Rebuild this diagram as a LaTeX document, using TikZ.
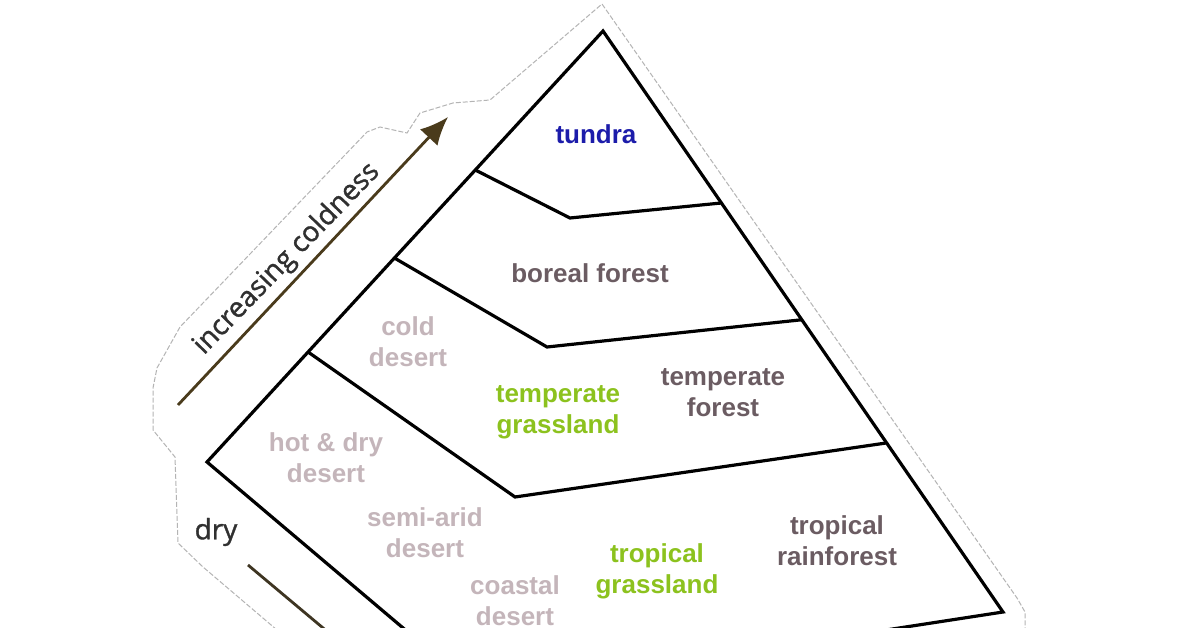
\documentclass[tikz,border=0pt]{standalone}
\usepackage{fontspec}
\setmainfont{Liberation Sans}
\newfontfamily\humfont[FakeBold=1.2]{Open Sans}
\usetikzlibrary{arrows.meta,calc}
\definecolor{tundrablue}{HTML}{1C1CAA}
\definecolor{darklbl}{HTML}{6B5C62}
\definecolor{lightlbl}{HTML}{C4B5BA}
\definecolor{grasslbl}{HTML}{8CC21E}
\definecolor{arrowbrown}{HTML}{3E3522}
\definecolor{headbrown}{HTML}{4A3B1C}
\definecolor{cutgray}{HTML}{B4B4B4}
\definecolor{axisgray}{HTML}{303030}
\begin{document}
\begin{tikzpicture}[x=1pt,y=-1pt,
  lbl/.style={font=\bfseries\fontsize{26}{31}\selectfont, align=center, inner sep=0pt},
  darkl/.style={lbl, text=darklbl},
  lightl/.style={lbl, text=lightlbl},
  grassl/.style={lbl, text=grasslbl},
  edge/.style={line width=3.2pt, line join=miter, line cap=round},
  axislbl/.style={font=\humfont\fontsize{28}{32}\selectfont, text=axisgray, inner sep=0pt},
  axisline/.style={line width=2.8pt, draw=arrowbrown},
  cutline/.style={draw=cutgray, line width=1pt, dash pattern=on 5pt off 2pt}]
\useasboundingbox[fill=white] (0,0) rectangle (1196,628);
\clip (0,0) rectangle (1196,628);

% cut-out outline
\draw[cutline] (277,630) -- (203,567) -- (178,543) -- (175,457) -- (153,430)
  -- (153,388) -- (157,368) -- (180,327) -- (367,132) -- (380,127) -- (407,133)
  -- (420,113) -- (453,103) -- (490,100) -- (602,4) -- (1017,598) -- (1025,612) -- (1025,630);

% pyramid corners
\coordinate (apex) at (603,31);
\coordinate (lc) at (207,462);
\coordinate (rc) at (1003,612);
\coordinate (blo) at (435,655);
\coordinate (bro) at (860,634);

% zone junctions
\coordinate (t1) at ($(apex)!0.3225!(lc)$);
\coordinate (t2) at (570,218);
\coordinate (t3) at ($(apex)!0.296!(rc)$);
\coordinate (b1) at ($(apex)!0.5267!(lc)$);
\coordinate (b2) at (547,347);
\coordinate (b3) at ($(apex)!0.497!(rc)$);
\coordinate (m1) at ($(apex)!0.7448!(lc)$);
\coordinate (m2) at (515,497);
\coordinate (m3) at ($(apex)!0.709!(rc)$);

\draw[edge] (blo) -- (lc) -- (apex) -- (rc) -- (bro);
\draw[edge] (t1) -- (t2) -- (t3);
\draw[edge] (b1) -- (b2) -- (b3);
\draw[edge] (m1) -- (m2) -- (m3);

% axes
\coordinate (c0) at (178,405);
\coordinate (c1) at (448,117);
\draw[axisline, -{Latex[length=28pt,width=24pt]}, color=headbrown] (c0) -- (c1);
\node[axislbl, rotate=46] (cold) at (287,259) {increasing coldness};
\coordinate (d0) at (248,565);
\coordinate (d1) at (335,638);
\draw[axisline] (d0) -- (d1);
\node[axislbl] (dry) at (216,532) {dry};

% labels
\node[lbl, text=tundrablue] (tundra) at (596,134) {tundra};
\node[darkl] (boreal) at (590,273) {boreal forest};
\node[lightl] (colddes) at (408,342) {cold\\desert};
\node[grassl] (tgrass) at (558,412) {temperate\\grassland};
\node[darkl] (tforest) at (723,393) {temperate\\forest};
\node[lightl] (hotdes) at (326,458) {hot \& dry\\desert};
\node[lightl] (semides) at (425,533) {semi-arid\\desert};
\node[lightl] (coastdes) at (515,601) {coastal\\desert};
\node[grassl] (trgrass) at (657,571) {tropical\\grassland};
\node[darkl] (trforest) at (837,541) {tropical\\rainforest};
\end{tikzpicture}
\end{document}
